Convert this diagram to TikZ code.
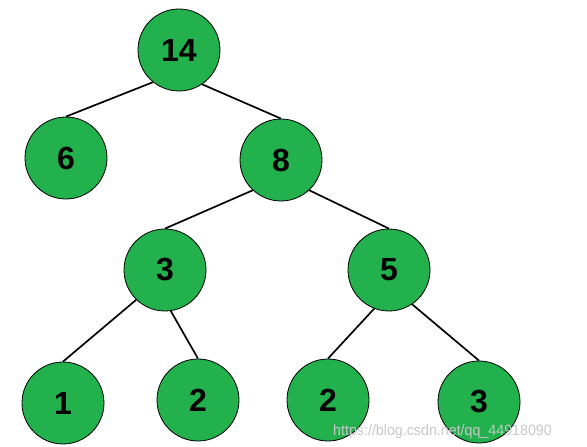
\documentclass[tikz,border=0pt]{standalone}
\usepackage{fontspec}
\setmainfont{Liberation Sans}
\definecolor{nodegreen}{HTML}{22B14C}
\begin{document}
\begin{tikzpicture}[x=1pt,y=1pt,
  tnode/.style={circle,draw=black,line width=0.8pt,fill=nodegreen,minimum size=82pt,inner sep=0pt,font=\fontsize{32}{32}\selectfont\bfseries},
  edge/.style={draw=black,line width=1.7pt}]
\useasboundingbox (0,0) rectangle (587,447);
\node[tnode] (n14) at (179,397) {14};
\node[tnode] (n6) at (66,289) {6};
\node[tnode] (n8) at (281,287) {8};
\node[tnode] (n3) at (165,177) {3};
\node[tnode] (n5) at (389,177) {5};
\node[tnode] (n1) at (63,44) {1};
\node[tnode] (n2a) at (198,47) {2};
\node[tnode] (n2b) at (328,47) {2};
\node[tnode] (n3b) at (479,45) {3};
\draw[edge] (n14.231) -- (n6.north);
\draw[edge] (n14.304) -- (n8.north);
\draw[edge] (n8.227) -- (n3.north);
\draw[edge] (n8.313) -- (n5.north);
\draw[edge] (n3.226) -- (n1.north);
\draw[edge] (n3.278) -- (n2a.north);
\draw[edge] (n5.249) -- (n2b.north);
\draw[edge] (n5.304) -- (n3b.north);
\node[anchor=west,text=black!22,font=\fontsize{15}{15}\selectfont,inner sep=0pt,xscale=0.95] (wm) at (333,15) {https://blog.csdn.net/qq\_44918090};
\end{tikzpicture}
\end{document}
